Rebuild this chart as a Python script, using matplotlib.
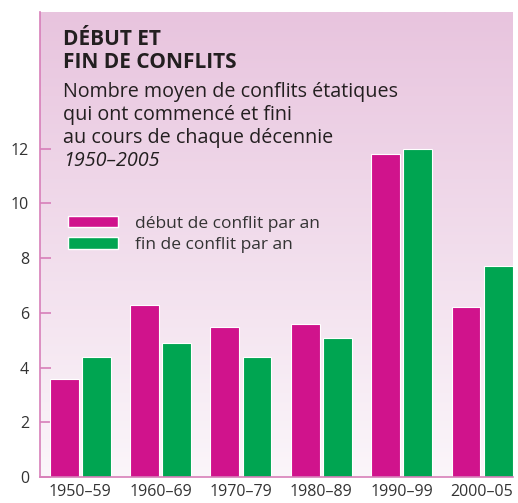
import numpy as np
import matplotlib.pyplot as plt
from matplotlib.patches import Patch

decades = ["1950–59", "1960–69", "1970–79", "1980–89", "1990–99", "2000–05"]
debut = [3.6, 6.3, 5.5, 5.6, 11.8, 6.2]
fin = [4.4, 4.9, 4.4, 5.1, 12.0, 7.7]
yticks = [0, 2, 4, 6, 8, 10, 12]

plt.rcParams['font.family'] = ['Open Sans', 'DejaVu Sans']

W, H = 518, 503
fig = plt.figure(figsize=(W / 100, H / 100), dpi=100)
fig.patch.set_facecolor('white')
ax = fig.add_axes([40 / W, 1 - 477 / H, (513 - 40) / W, (477 - 12) / H])

# pink-to-white vertical gradient behind the bars
top = np.array([232, 196, 222]) / 255
bot = np.array([251, 246, 250]) / 255
t = np.linspace(0, 1, 256)[:, None]
grad = (top * (1 - t) + bot * t)[:, None, :]
ax.imshow(grad, extent=[0, 1, 0, 1], transform=ax.transAxes, aspect='auto', zorder=0)

x = np.arange(len(decades))
w = 0.36
c_debut = '#d0138c'
c_fin = '#00a551'
ax.bar(x - 0.2, debut, w, color=c_debut, edgecolor='white', linewidth=0.8, zorder=2)
ax.bar(x + 0.2, fin, w, color=c_fin, edgecolor='white', linewidth=0.8, zorder=2)

ax.set_xlim(-0.5, 5.385)
ax.set_ylim(0, 17)
ax.set_yticks(yticks)
ax.set_xticks(x)
ax.set_xticklabels(decades)

spine_c = '#d77fb9'
for s in ['top', 'right']:
    ax.spines[s].set_visible(False)
for s in ['left', 'bottom']:
    ax.spines[s].set_color(spine_c)
    ax.spines[s].set_linewidth(1.2)
    ax.spines[s].set_zorder(3)
ax.tick_params(axis='y', direction='in', length=8, width=1.2, color=spine_c,
               labelsize=11.5, labelcolor='#333333', pad=8)
ax.tick_params(axis='x', length=0, labelsize=11.5, labelcolor='#333333', pad=5)

def fx(px):
    return px / W

def fy(py):
    return 1 - py / H

tc = '#231f20'
fig.text(fx(63), fy(45), "DÉBUT ET", fontsize=15, fontweight='bold', color=tc, va='baseline')
fig.text(fx(63), fy(68), "FIN DE CONFLITS", fontsize=15, fontweight='bold', color=tc, va='baseline')
sub = ["Nombre moyen de conflits étatiques",
       "qui ont commencé et fini",
       "au cours de chaque décennie"]
for i, line in enumerate(sub):
    fig.text(fx(63), fy(97 + 23 * i), line, fontsize=14.2, color=tc, va='baseline')
fig.text(fx(63), fy(166), "1950–2005", fontsize=14.2, style='italic', color=tc, va='baseline')

handles = [Patch(facecolor=c_debut, edgecolor='white', label="début de conflit par an"),
           Patch(facecolor=c_fin, edgecolor='white', label="fin de conflit par an")]
leg = ax.legend(handles=handles, loc='upper left', bbox_to_anchor=(fx(52), fy(200)),
                bbox_transform=fig.transFigure, frameon=False, fontsize=12.5,
                handlelength=2.9, handleheight=0.65, handletextpad=1.0, labelspacing=0.3)
for txt in leg.get_texts():
    txt.set_color('#333333')

fig.savefig('out.png', dpi=100)
